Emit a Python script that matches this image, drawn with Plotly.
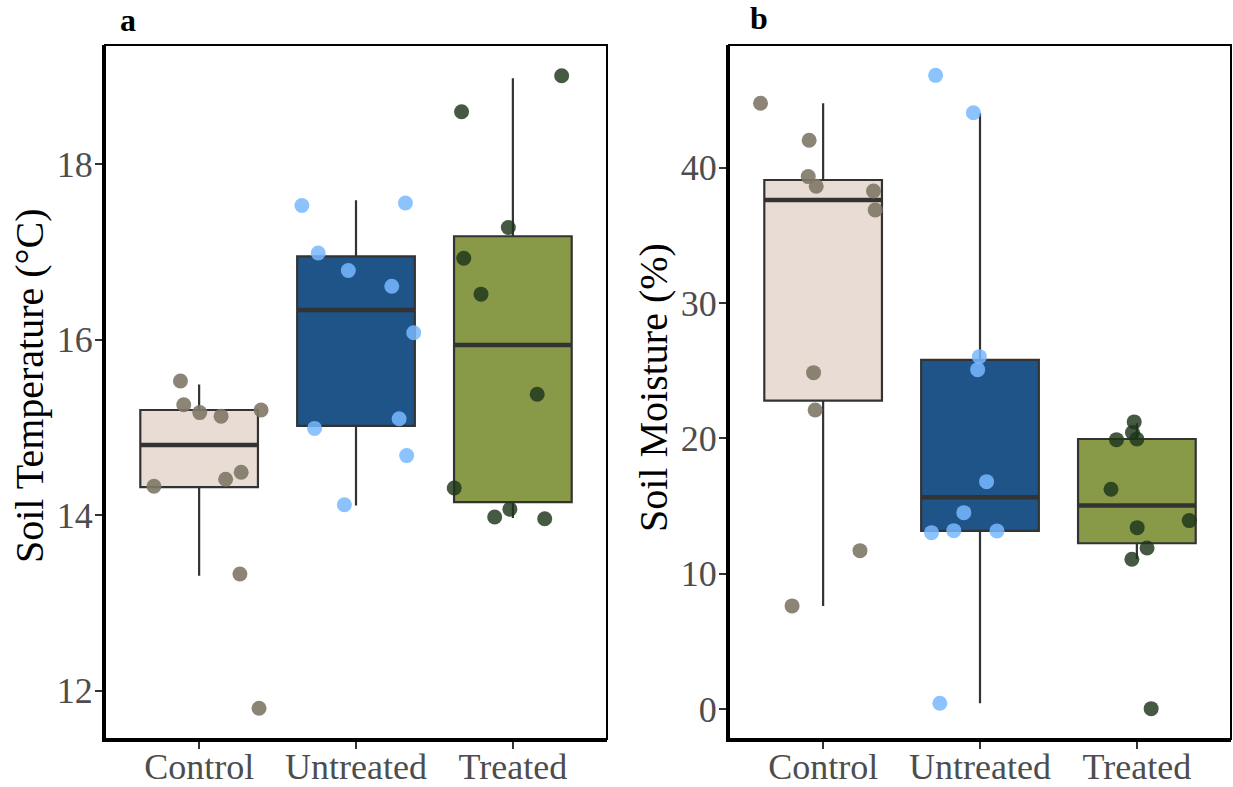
import plotly.graph_objects as go

# ---- data -------------------------------------------------------------
groups = ["Control", "Untreated", "Treated"]

# Panel a: soil temperature (°C), individual plots per treatment
temp_control = [15.53, 15.26, 15.17, 15.13, 15.20, 14.49, 14.41, 14.33, 13.33, 11.80]
temp_untreated = [17.53, 17.56, 16.99, 16.79, 16.61, 16.08, 15.10, 14.99, 14.68, 14.12]
temp_treated = [19.01, 18.60, 17.28, 16.93, 16.52, 15.38, 14.31, 14.07, 13.98, 13.96]

# horizontal jitter of each point (category units)
temp_jit_control = [-0.119, -0.098, 0.004, 0.140, 0.395, 0.268, 0.169, -0.288, 0.260, 0.382]
temp_jit_untreated = [-0.345, 0.315, -0.241, -0.049, 0.228, 0.368, 0.275, -0.264, 0.323, -0.074]
temp_jit_treated = [0.311, -0.327, -0.029, -0.313, -0.203, 0.155, -0.374, -0.019, -0.116, 0.203]

# box summaries for temperature (lower whisker, Q1, median, Q3, upper whisker)
temp_lower = [13.31, 14.11, 13.97]
temp_q1 = [14.32, 15.02, 14.15]
temp_median = [14.80, 16.34, 15.94]
temp_q3 = [15.20, 16.95, 17.18]
temp_upper = [15.49, 17.59, 18.98]

# Panel b: soil moisture (%)
moist_control = [44.76, 42.02, 39.34, 38.63, 38.28, 36.88, 24.86, 22.10, 11.71, 7.63]
moist_untreated = [46.82, 44.06, 26.04, 25.08, 16.81, 14.52, 13.04, 13.19, 13.17, 0.44]
moist_treated = [21.22, 20.43, 19.91, 19.96, 16.25, 13.93, 13.41, 11.91, 11.08, 0.04]

moist_jit_control = [-0.399, -0.089, -0.095, -0.044, 0.321, 0.332, -0.061, -0.051, 0.235, -0.198]
moist_jit_untreated = [-0.283, -0.042, -0.004, -0.015, 0.042, -0.103, -0.309, -0.167, 0.108, -0.256]
moist_jit_treated = [-0.017, -0.028, -0.130, 0.000, -0.165, 0.334, 0.002, 0.065, -0.032, 0.091]

moist_lower = [7.63, 0.44, 11.10]
moist_q1 = [22.79, 13.17, 12.26]
moist_median = [37.61, 15.66, 15.04]
moist_q3 = [39.09, 25.80, 19.96]
moist_upper = [44.76, 44.02, 21.12]

# ---- styling ------------------------------------------------------------
box_fill = ["#E8DCD4", "#1F5488", "#889948"]
point_col = ["rgba(128,120,102,0.9)", "rgba(120,185,255,0.85)", "rgba(28,52,26,0.82)"]
SERIF = "Liberation Serif, Times New Roman, serif"
BOX_W = 0.75

fig = go.Figure()


def add_panel(xa, ya, pts, jits, lo, q1, med, q3, hi):
    xref = "x" if xa == 1 else "x%d" % xa
    yref = "y" if ya == 1 else "y%d" % ya
    for i in range(3):
        pos = i + 1
        fig.add_trace(go.Box(
            x=[pos], q1=[q1[i]], median=[med[i]], q3=[q3[i]],
            lowerfence=[lo[i]], upperfence=[hi[i]],
            width=BOX_W, whiskerwidth=0, boxpoints=False,
            fillcolor=box_fill[i], line=dict(color="#333333", width=2.2),
            xaxis=xref, yaxis=yref, showlegend=False, hoverinfo="skip"))
        # thicker median bar
        fig.add_trace(go.Scatter(
            x=[pos - BOX_W / 2, pos + BOX_W / 2], y=[med[i], med[i]],
            mode="lines", line=dict(color="#333333", width=4.5),
            xaxis=xref, yaxis=yref, showlegend=False, hoverinfo="skip"))
    for i in range(3):
        pos = i + 1
        fig.add_trace(go.Scatter(
            x=[pos + j for j in jits[i]], y=pts[i], mode="markers",
            marker=dict(size=15, color=point_col[i], line=dict(width=0)),
            xaxis=xref, yaxis=yref, showlegend=False, hoverinfo="skip"))


add_panel(1, 1,
          [temp_control, temp_untreated, temp_treated],
          [temp_jit_control, temp_jit_untreated, temp_jit_treated],
          temp_lower, temp_q1, temp_median, temp_q3, temp_upper)
add_panel(2, 2,
          [moist_control, moist_untreated, moist_treated],
          [moist_jit_control, moist_jit_untreated, moist_jit_treated],
          moist_lower, moist_q1, moist_median, moist_q3, moist_upper)

W, H = 1233, 787
y_dom = [(H - 739) / H, (H - 45) / H]
x_dom1 = [105 / W, 607 / W]
x_dom2 = [729 / W, 1231 / W]

common_x = dict(
    range=[0.4, 3.6], tickvals=[1, 2, 3], ticktext=groups,
    showgrid=False, zeroline=False, showline=True, linecolor="black", linewidth=3,
    ticks="outside", ticklen=7, tickwidth=2, tickcolor="#333333",
    ticklabelstandoff=-13,
    tickfont=dict(family=SERIF, size=36, color="#4D4D4D"), automargin=False)
common_y = dict(
    showgrid=False, zeroline=False, showline=True, linecolor="black", linewidth=3,
    ticks="outside", ticklen=7, tickwidth=2, tickcolor="#333333",
    ticklabelstandoff=-5,
    tickfont=dict(family=SERIF, size=36, color="#4D4D4D"), automargin=False)

fig.update_layout(
    width=W, height=H,
    margin=dict(l=0, r=0, t=0, b=0),
    paper_bgcolor="white", plot_bgcolor="white",
    xaxis=dict(domain=x_dom1, anchor="y", **common_x),
    yaxis=dict(domain=y_dom, anchor="x", range=[11.45, 19.36],
               tickvals=[12, 14, 16, 18], **common_y),
    xaxis2=dict(domain=x_dom2, anchor="y2", **common_x),
    yaxis2=dict(domain=y_dom, anchor="x2", range=[-2.2, 49.06],
                tickvals=[0, 10, 20, 30, 40], **common_y),
)

# panel borders
for xr, yr in (("x domain", "y domain"), ("x2 domain", "y2 domain")):
    fig.add_shape(type="rect", xref=xr, yref=yr, x0=0, x1=1, y0=0, y1=1,
                  line=dict(color="black", width=2), layer="above")

# axis titles and panel letters
title_font = dict(family=SERIF, size=40, color="black")
fig.add_annotation(text="Soil Temperature (°C)", xref="paper", yref="paper",
                   x=29 / W, y=1 - 386 / H, textangle=-90, showarrow=False,
                   xanchor="center", yanchor="middle", font=title_font)
fig.add_annotation(text="Soil Moisture (%)", xref="paper", yref="paper",
                   x=653 / W, y=1 - 388 / H, textangle=-90, showarrow=False,
                   xanchor="center", yanchor="middle", font=title_font)
fig.add_annotation(text="<b>a</b>", xref="paper", yref="paper",
                   x=128 / W, y=1 - 20 / H, showarrow=False,
                   xanchor="center", yanchor="middle",
                   font=dict(family=SERIF, size=32, color="black"))
fig.add_annotation(text="<b>b</b>", xref="paper", yref="paper",
                   x=759 / W, y=1 - 18 / H, showarrow=False,
                   xanchor="center", yanchor="middle",
                   font=dict(family=SERIF, size=32, color="black"))

fig.write_html("out.html")
